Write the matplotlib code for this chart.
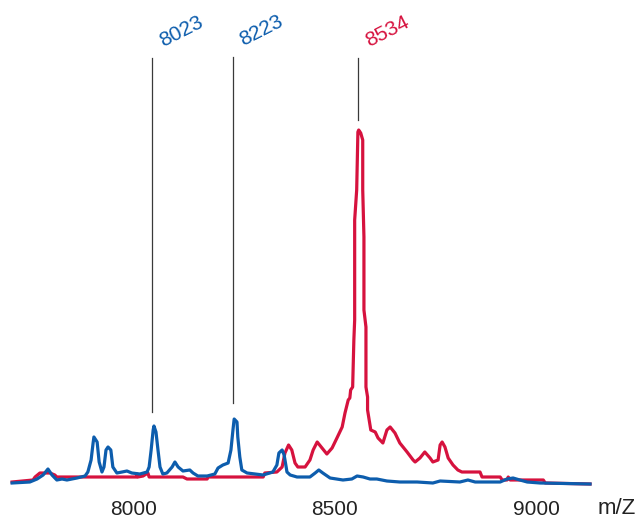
import matplotlib
matplotlib.use("Agg")
import matplotlib.pyplot as plt
import matplotlib.transforms as mtransforms

# ---- data ----
blue_mz = [7676, 7720, 7738, 7753, 7763, 7765, 7775, 7787, 7800, 7812, 7837, 7857, 7864, 7872,
           7877, 7879, 7887, 7892, 7899, 7904, 7909, 7914, 7921, 7926, 7936, 7949, 7961, 7973,
           7993, 8011, 8016, 8021, 8026, 8028, 8033, 8038, 8043, 8050, 8060, 8073, 8080, 8088,
           8100, 8117, 8125, 8137, 8160, 8179, 8187, 8199, 8212, 8219, 8224, 8227, 8234, 8236,
           8241, 8246, 8259, 8279, 8299, 8323, 8333, 8338, 8346, 8351, 8356, 8358, 8366, 8383,
           8390, 8415, 8428, 8437, 8447, 8465, 8497, 8519, 8532, 8547, 8564, 8581, 8606, 8638,
           8681, 8720, 8738, 8787, 8807, 8825, 8887, 8904, 8919, 8936, 8954, 8986, 9110]
blue_int = [-1, 0, 3, 7, 12, 13, 7, 2, 3, 2, 4, 6, 10, 22,
            39, 45, 40, 20, 10, 15, 32, 35, 32, 15, 9, 10, 11, 9,
            8, 10, 15, 32, 52, 56, 50, 32, 15, 8, 9, 15, 20, 15,
            11, 12, 9, 6, 6, 8, 14, 17, 19, 32, 52, 63, 60, 45,
            25, 12, 9, 8, 7, 10, 17, 29, 32, 27, 15, 10, 7, 5,
            5, 5, 9, 12, 9, 4, 2, 3, 6, 5, 3, 3, 1, 0,
            0, -1, 1, 0, 2, 0, 0, 3, 4, 2, 0, -1, -2]

red_mz = [7676, 7728, 7733, 7745, 7770, 7782, 7787, 7985, 7986, 7988, 8001, 8013, 8016, 8100,
          8110, 8160, 8162, 8299, 8303, 8333, 8346, 8353, 8362, 8370, 8378, 8385, 8403, 8415,
          8423, 8433, 8445, 8457, 8470, 8482, 8495, 8502, 8510, 8514, 8516, 8521, 8524, 8526,
          8526, 8531, 8534, 8536, 8541, 8546, 8546, 8549, 8549, 8554, 8554, 8558, 8558, 8566,
          8577, 8584, 8596, 8606, 8614, 8626, 8638, 8656, 8671, 8676, 8688, 8700, 8713, 8720,
          8733, 8738, 8743, 8750, 8758, 8770, 8782, 8792, 8837, 8842, 8887, 8892, 8904, 8907,
          8912, 8994, 8999, 9110]
red_int = [0, 2, 5, 9, 9, 7, 5, 5, 8, 5, 6, 9, 5, 5,
           3, 3, 5, 5, 9, 10, 15, 29, 37, 32, 19, 15, 15, 22,
           32, 40, 34, 28, 34, 44, 55, 69, 82, 84, 92, 95, 142, 162,
           262, 292, 350, 352, 349, 342, 292, 245, 172, 155, 95, 85, 72, 52,
           50, 44, 39, 52, 55, 49, 39, 30, 22, 20, 24, 30, 24, 20,
           22, 37, 40, 35, 24, 17, 12, 10, 10, 5, 5, 2, 2, 5,
           2, 2, -1, -2]

peak_labels = ["8023", "8223", "8534"]
peak_mz = [8023, 8223, 8534]
peak_line_top = [424, 425, 424]
peak_line_bottom = [70, 79, 362]
peak_colors = ["#0d5dad", "#0d5dad", "#d6123e"]

xticks = [8000, 8500, 9000]
xtick_labels = ["8000", "8500", "9000"]

BLUE = "#0d5dad"
RED = "#d6123e"

plt.rcParams['font.family'] = ['Liberation Sans', 'DejaVu Sans']

fig = plt.figure(figsize=(6.38, 5.19), dpi=100)
ax = fig.add_axes([0, 29 / 519, 1, 490 / 519])
ax.set_xlim(7646, 9229)
ax.set_ylim(-8, 482)

ax.plot(red_mz, red_int, color=RED, lw=2.3, solid_joinstyle='round', zorder=2)
ax.plot(blue_mz, blue_int, color=BLUE, lw=2.3, solid_joinstyle='round', zorder=3)

for lab, mz, top, bot, col in zip(peak_labels, peak_mz, peak_line_top, peak_line_bottom, peak_colors):
    ax.plot([mz, mz], [bot, top], color="#3a3a3a", lw=0.9, zorder=1)
    ax.annotate(lab, xy=(mz, top), xytext=(29, 26), textcoords='offset pixels',
                ha='center', va='center', rotation=27, rotation_mode='anchor',
                fontsize=15, color=col)

for s in ax.spines.values():
    s.set_visible(False)
ax.set_yticks([])
ax.set_xticks(xticks)
ax.set_xticklabels(xtick_labels, fontsize=15, color="#222222")
ax.tick_params(axis='x', length=0, pad=7)
offset = mtransforms.ScaledTranslation(-9.5 / 100, 0, fig.dpi_scale_trans)
for lbl in ax.get_xticklabels():
    lbl.set_transform(lbl.get_transform() + offset)

fig.text(617 / 638, 1 - 509 / 519, "m/Z", ha='center', va='center', fontsize=16, color="#222222")

fig.savefig("out.png", dpi=100)
